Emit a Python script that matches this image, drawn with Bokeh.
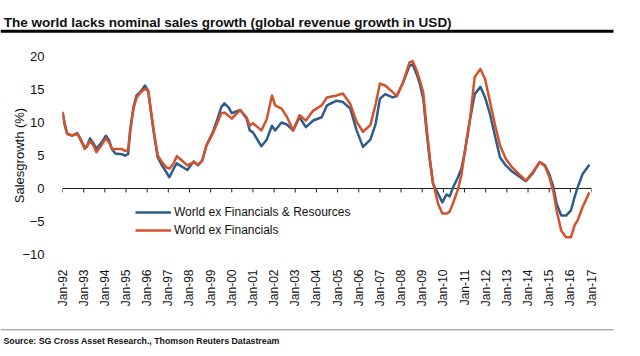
import math
from bokeh.plotting import figure
from bokeh.layouts import column
from bokeh.models import Range1d, FixedTicker, Legend, LegendItem
from bokeh.core.properties import value
from bokeh.embed import file_html
from bokeh.resources import INLINE

# ---- data ----
years = [1992.0, 1992.1, 1992.22, 1992.45, 1992.7, 1992.85, 1993.05, 1993.15, 1993.3, 1993.45,
         1993.6, 1993.85, 1994.05, 1994.2, 1994.35, 1994.5, 1994.8, 1994.95, 1995.1, 1995.2,
         1995.35, 1995.5, 1995.7, 1995.9, 1996.05, 1996.15, 1996.3, 1996.5, 1996.7, 1996.9,
         1997.05, 1997.25, 1997.4, 1997.55, 1997.9, 1998.2, 1998.4, 1998.6, 1998.8, 1999.1,
         1999.3, 1999.5, 1999.65, 1999.85, 2000.0, 2000.4, 2000.7, 2000.85, 2001.0, 2001.4,
         2001.65, 2001.9, 2002.05, 2002.35, 2002.6, 2002.9, 2003.2, 2003.5, 2003.85, 2004.25,
         2004.5, 2004.95, 2005.25, 2005.6, 2005.9, 2006.2, 2006.55, 2006.8, 2007.0, 2007.25,
         2007.6, 2007.8, 2008.1, 2008.4, 2008.55, 2008.75, 2008.89, 2009.05, 2009.2, 2009.36,
         2009.51, 2009.75, 2009.95, 2010.15, 2010.3, 2010.46, 2010.69, 2010.85, 2011.0, 2011.25,
         2011.48, 2011.75, 2011.97, 2012.2, 2012.45, 2012.68, 2012.95, 2013.2, 2013.5, 2013.9,
         2014.2, 2014.55, 2014.8, 2015.0, 2015.2, 2015.35, 2015.57, 2015.8, 2016.03, 2016.2,
         2016.35, 2016.58, 2016.9]

ex_fin_res = [11.6, 9.8, 8.3, 8.0, 8.4, 7.5, 6.2, 6.4, 7.6, 6.9,
              6.0, 7.0, 8.0, 7.3, 5.9, 5.3, 5.2, 5.0, 5.2, 8.8,
              12.3, 14.1, 14.7, 15.6, 14.8, 12.3, 8.8, 4.7, 3.5, 2.5,
              1.7, 3.0, 3.8, 3.5, 2.8, 4.1, 3.5, 4.2, 6.5, 8.5,
              10.3, 12.3, 12.9, 12.3, 11.4, 11.9, 10.6, 8.8, 8.5, 6.4,
              7.4, 9.5, 8.8, 10.0, 9.7, 8.8, 10.8, 9.3, 10.3, 10.8,
              12.6, 13.3, 13.1, 12.1, 8.8, 6.3, 7.4, 9.8, 13.6, 14.3,
              13.8, 14.0, 16.1, 18.6, 18.8, 17.2, 15.8, 13.6, 8.8, 4.2,
              0.7, -0.8, -2.1, -0.9, -1.2, 0.2, 1.7, 3.0, 5.3, 10.3,
              14.3, 15.4, 13.8, 11.3, 7.8, 4.7, 3.5, 2.7, 2.0, 1.1,
              2.2, 4.0, 3.5, 2.2, 0.2, -2.3, -4.1, -4.1, -3.3, -1.3,
              0.2, 2.2, 3.6]

ex_fin = [11.6, 9.8, 8.3, 8.0, 8.3, 7.4, 6.0, 6.3, 7.2, 6.6,
          5.5, 6.6, 7.6, 7.0, 5.9, 6.0, 6.0, 5.7, 5.8, 8.8,
          12.0, 13.8, 14.6, 15.1, 14.8, 12.5, 9.0, 5.0, 4.0, 3.2,
          3.0, 3.8, 4.9, 4.5, 3.5, 4.0, 3.6, 4.2, 6.5, 8.3,
          9.8, 11.4, 11.5, 11.0, 10.6, 11.9, 10.8, 9.5, 9.9, 8.8,
          10.5, 14.1, 12.6, 12.1, 10.9, 8.8, 11.1, 10.3, 11.8, 12.6,
          13.8, 14.1, 14.4, 12.8, 10.1, 8.6, 9.6, 12.8, 15.9, 15.6,
          14.6, 14.0, 16.1, 19.1, 19.3, 17.8, 16.4, 14.5, 9.5, 4.6,
          0.9, -2.3, -3.8, -3.8, -3.5, -2.2, -0.1, 2.0, 5.3, 10.3,
          16.9, 18.1, 16.6, 13.2, 9.5, 6.5, 4.5, 3.4, 2.4, 1.2,
          2.4, 4.0, 3.4, 1.8, -0.5, -3.3, -6.4, -7.4, -7.4, -5.6,
          -4.8, -2.8, -0.6]

tick_years = list(range(1992, 2018))
tick_labels = ["Jan-92", "Jan-93", "Jan-94", "Jan-95", "Jan-96", "Jan-97", "Jan-98", "Jan-99",
               "Jan-00", "Jan-01", "Jan-02", "Jan-03", "Jan-04", "Jan-05", "Jan-06", "Jan-07",
               "Jan-08", "Jan-09", "Jan-10", "Jan-11", "Jan-12", "Jan-13", "Jan-14", "Jan-15",
               "Jan-16", "Jan-17"]
y_ticks = [-10, -5, 0, 5, 10, 15, 20]

title_text = "The world lacks nominal sales growth (global revenue growth in USD)"
source_text = "Source: SG Cross Asset Research., Thomson Reuters Datastream"
series_names = ["World ex Financials & Resources", "World ex Financials"]

FONT = "Liberation Sans"
BLUE = "#2d5d8c"
RED = "#d4522b"
W = 640
TOP_H, MAIN_H, BOT_H = 40, 287, 29


def blank_panel(h):
    f = figure(width=W, height=h, output_backend="svg", toolbar_location=None,
               x_range=Range1d(0, W), y_range=Range1d(h, 0),
               x_axis_location=None, y_axis_location=None,
               min_border=0, min_border_left=0, min_border_right=0,
               min_border_top=0, min_border_bottom=0, frame_align=False)
    f.outline_line_color = None
    f.xgrid.grid_line_color = None
    f.ygrid.grid_line_color = None
    f.background_fill_color = "white"
    f.border_fill_color = "white"
    return f


# ---- title panel ----
top = blank_panel(TOP_H)
top.text(x=[3.3], y=[22], text=[title_text], text_font=value(FONT), text_font_size="13.5px",
         text_font_style="bold", text_color="#111111", text_baseline="alphabetic",
         text_align="left")
top.quad(left=[0], right=[613], top=[29.3], bottom=[32.2], fill_color="black",
         line_color=None)

# ---- main chart ----
FL, FR, FT, FB = 62, 591, 56 - TOP_H, 254 - TOP_H
p = figure(width=W, height=MAIN_H, output_backend="svg", toolbar_location=None,
           x_range=Range1d(1992, 2017), y_range=Range1d(-10, 20),
           min_border_left=FL, min_border_right=W - FR, min_border_top=FT,
           min_border_bottom=MAIN_H - FB, frame_align=False)
p.outline_line_color = None
p.xgrid.grid_line_color = None
p.ygrid.grid_line_color = None
p.background_fill_color = "white"
p.border_fill_color = "white"

p.xaxis.ticker = FixedTicker(ticks=tick_years)
p.xaxis.major_label_overrides = {y: l for y, l in zip(tick_years, tick_labels)}
p.xaxis.major_label_orientation = math.pi / 2
p.xaxis.axis_line_color = None
p.xaxis.major_tick_line_color = None
p.xaxis.minor_tick_line_color = None
p.xaxis.major_label_standoff = 9
p.xaxis.major_label_text_font = FONT
p.xaxis.major_label_text_font_size = "12px"
p.xaxis.major_label_text_color = "#111111"

p.yaxis.ticker = FixedTicker(ticks=y_ticks)
p.yaxis.axis_line_color = None
p.yaxis.major_tick_line_color = None
p.yaxis.minor_tick_line_color = None
p.yaxis.major_label_standoff = 12
p.yaxis.major_label_text_font = FONT
p.yaxis.major_label_text_font_size = "13px"
p.yaxis.major_label_text_color = "#111111"
p.yaxis.axis_label = "Salesgrowth (%)"
p.yaxis.axis_label_text_font = FONT
p.yaxis.axis_label_text_font_size = "13px"
p.yaxis.axis_label_text_font_style = "normal"
p.yaxis.axis_label_text_color = "#111111"
p.yaxis.axis_label_standoff = -8

# zero line with tick marks
p.line(x=[tick_years[0], tick_years[-1]], y=[0, 0], line_color="#222222", line_width=1)
p.segment(x0=tick_years, y0=[0] * len(tick_years), x1=tick_years, y1=[-0.6] * len(tick_years),
          line_color="#222222", line_width=1)

r_blue = p.line(years, ex_fin_res, line_color=BLUE, line_width=2.5, line_join="round")
r_red = p.line(years, ex_fin, line_color=RED, line_width=2.5, line_join="round")

legend = Legend(items=[LegendItem(label=series_names[0], renderers=[r_blue]),
                       LegendItem(label=series_names[1], renderers=[r_red])],
                location=(73, 15), orientation="vertical",
                border_line_color=None, background_fill_alpha=0,
                label_text_font=FONT, label_text_font_size="12px", label_text_color="#111111",
                glyph_width=36, glyph_height=18, label_height=18, label_standoff=3,
                spacing=0, padding=0, margin=0)
p.add_layout(legend)

# ---- source panel ----
bot = blank_panel(BOT_H)
bot.quad(left=[0], right=[613], top=[1.8], bottom=[2.8], fill_color="#888888",
         line_color=None)
bot.text(x=[3], y=[13], text=[source_text], text_font=value(FONT), text_font_size="8.8px",
         text_font_style="bold", text_color="#111111", text_baseline="alphabetic",
         text_align="left")

layout = column(top, p, bot, spacing=0)
open("out.html", "w").write(file_html(layout, INLINE))
